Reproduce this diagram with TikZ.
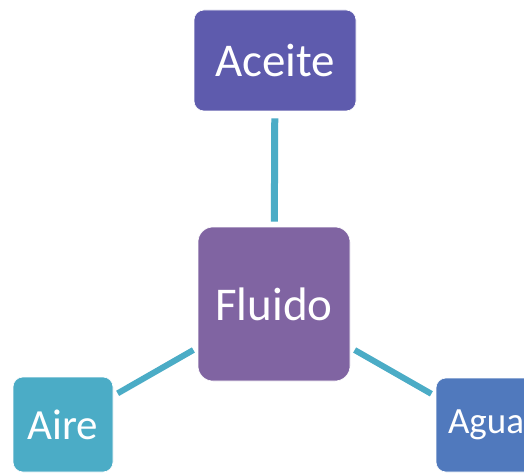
\documentclass[tikz,border=0pt]{standalone}
\usepackage{fontspec}
\setmainfont{Carlito}
\definecolor{cAceite}{HTML}{5E5BAD}
\definecolor{cFluido}{HTML}{8064A2}
\definecolor{cAire}{HTML}{4BACC6}
\definecolor{cAgua}{HTML}{5079BD}
\definecolor{cLink}{HTML}{4BACC6}
\tikzset{
  box/.style={draw=white, line width=0.6pt, rounded corners=10pt, text=white, inner sep=0pt, align=center},
  link/.style={draw=cLink, line width=6pt, shorten <=5pt, shorten >=5pt}
}
\begin{document}
\begin{tikzpicture}[x=1pt,y=-1pt]
\clip (0,0) rectangle (524,473);
\fill[white] (0,0) rectangle (524,473);
\node[box, fill=cAceite, minimum width=162pt, minimum height=101pt, font=\fontsize{47}{50}\selectfont] (aceite) at (275,60.5) {Aceite};
\node[box, fill=cFluido, minimum width=152pt, minimum height=154pt, rounded corners=15pt, font=\fontsize{47}{50}\selectfont] (fluido) at (274,304) {Fluido};
\node[box, fill=cAire, minimum width=100pt, minimum height=95pt, font=\fontsize{43}{46}\selectfont] (aire) at (63,424.5) {Aire};
\node[box, fill=cAgua, minimum width=100pt, minimum height=94pt, font=\fontsize{37}{40}\selectfont] (agua) at (486,425) {Agua};
\draw[link, line width=7pt, shorten <=7pt] (aceite) -- (fluido);
\draw[link] (fluido) -- (aire);
\draw[link] (fluido) -- (agua);
\end{tikzpicture}
\end{document}
